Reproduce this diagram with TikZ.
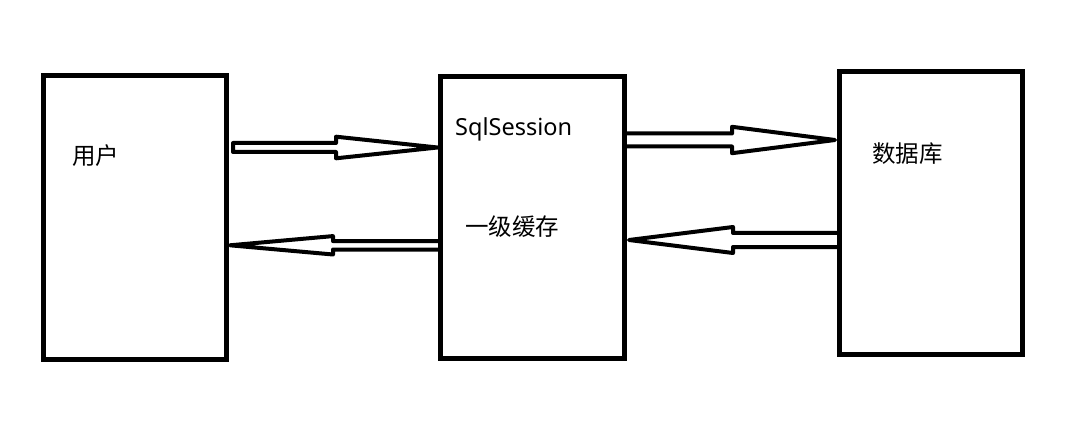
\documentclass[tikz,border=0pt]{standalone}
\usepackage{fontspec}
\setmainfont{Noto Sans}
\newfontfamily\cjk{Noto Sans CJK SC}
\usetikzlibrary{calc}

\tikzset{
  box/.style={draw=black, line width=5pt, outer sep=0pt, inner sep=0pt},
  fat/.style={draw=black, line width=4pt, line join=round},
  lbl/.style={inner sep=0pt, font=\fontsize{23.5}{28}\selectfont}
}

% hollow arrow: tail, tip, neck x, shaft half width, head half width
\newcommand{\fatarrow}[5]{%
  \draw[fat] let \p1=(#1), \p2=(#2) in
    (\x1,\y1+#4) -- (#3,\y1+#4) -- (#3,\y1+#5) -- (\x2,\y1)
    -- (#3,\y1-#5) -- (#3,\y1-#4) -- (\x1,\y1-#4) -- cycle;}

\begin{document}
\begin{tikzpicture}[x=1pt, y=-1pt]

   \useasboundingbox (0,0) rectangle (1075,430);

   \node[box, minimum width=183pt, minimum height=283.5pt] (user) at (135,217.25) {};
   \node[box, minimum width=183.5pt, minimum height=281.5pt] (sql) at (532.25,217.25) {};
   \node[box, minimum width=183.5pt, minimum height=282.2pt] (db) at (930.75,212.9) {};

   \node[lbl] (userlbl) at (95.5,156) {\cjk 用户};
   \node[lbl, anchor=base west] (sqllbl) at (455,136) {SqlSession};
   \node[lbl] (cachelbl) at (512,227) {\cjk 一级缓存};
   \node[lbl] (dblbl) at (907.5,153.5) {\cjk 数据库};

   \fatarrow{$(user.east |- 0,147.5)+(6.5,0)$}{$(sql.west |- 0,147.5)+(-3,0)$}{336pt}{4.5pt}{10.8pt}
   \fatarrow{sql.west |- 0,245.3}{$(user.east |- 0,245.3)+(3.5,0)$}{333pt}{4.2pt}{9.2pt}
   \fatarrow{sql.east |- 0,140}{$(db.west |- 0,140)+(-4,0)$}{732pt}{6.5pt}{13.2pt}
   \fatarrow{db.west |- 0,240}{$(sql.east |- 0,240)+(5,0)$}{733pt}{7pt}{13pt}

\end{tikzpicture}
\end{document}
